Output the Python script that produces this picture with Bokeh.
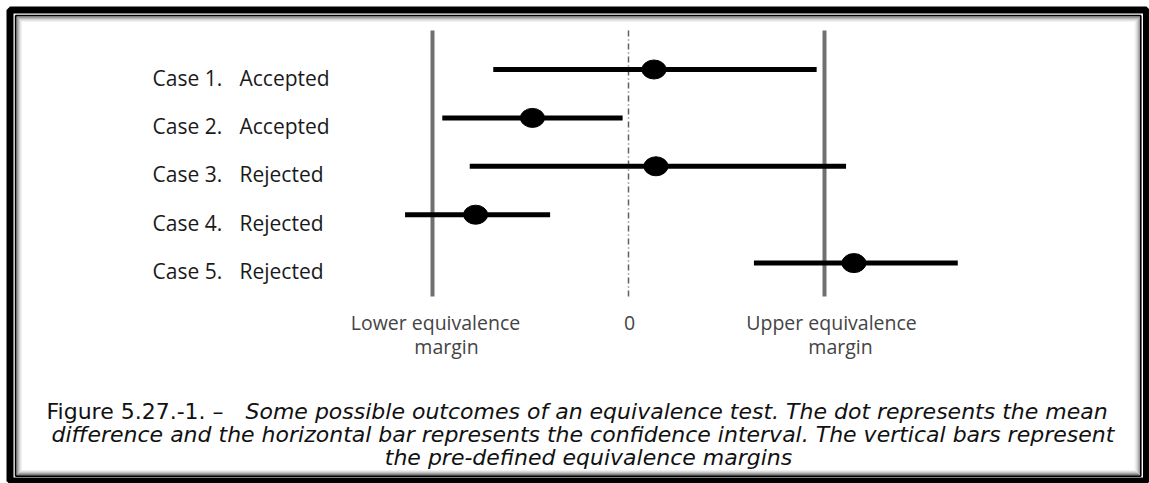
from bokeh.plotting import figure
from bokeh.models import Range1d, BoxAnnotation, ColumnDataSource
from bokeh.core.properties import value
from bokeh.embed import file_html
from bokeh.resources import INLINE

# ---------------- data ----------------
cases = ["Case 1.", "Case 2.", "Case 3.", "Case 4.", "Case 5."]
outcomes = ["Accepted", "Accepted", "Rejected", "Rejected", "Rejected"]
mean_diff = [0.13, -0.49, 0.14, -0.78, 1.15]
ci_low = [-0.69, -0.95, -0.81, -1.14, 0.64]
ci_high = [0.96, -0.03, 1.11, -0.40, 1.68]
margins = [-1.0, 1.0]
zero_line = [0.0]
tick_values = [-1.0, 0.0, 1.0]
tick_line1 = ["Lower equivalence", "0", "Upper equivalence"]
tick_line2 = ["margin", "", "margin"]
caption_lead = "Figure 5.27.-1. \u2013 "
caption_lines = [
    "Some possible outcomes of an equivalence test.  The dot represents the mean",
    "difference and the horizontal bar represents the confidence interval.  The vertical bars represent",
    "the pre-defined equivalence margins",
]

# ---------------- layout helpers (canvas pixels -> data units) ----------------
W, H = 1149, 483
ZERO_PX, UNIT_PX = 628.0, 196.0
ROW1_PY, ROW_STEP = 69.0, 48.4


def xd(px):
    return (px - ZERO_PX) / UNIT_PX


def yd(py):
    return 1 + (py - ROW1_PY) / ROW_STEP


rows = list(range(1, len(cases) + 1))

p = figure(width=W, height=H, output_backend="svg", toolbar_location=None,
           x_range=Range1d(xd(0), xd(W)),
           y_range=Range1d(yd(H), yd(0)),
           min_border=0, x_axis_location=None, y_axis_location=None)
p.grid.visible = False
p.outline_line_color = None
p.background_fill_color = "white"
p.border_fill_color = "white"


# frame decoration: thick outer border, thin inner border and inset shadow
def frame_box(l, t, r, b, color, width):
    p.add_layout(BoxAnnotation(left=xd(l), right=xd(r), top=yd(t), bottom=yd(b),
                               fill_alpha=0, line_color=color, line_width=width,
                               line_alpha=1))


frame_box(9.5, 9.5, 1146, 480.5, "black", 7)
frame_box(15.2, 15.2, 1140.2, 475.6, "black", 1.8)
for i, c in enumerate(["#808080", "#a4a4a4", "#c4c4c4", "#dcdcdc", "#eeeeee"]):
    frame_box(16.8 + i, 16.8 + i, 1138.6 - i, 474.0 - i, c, 1)

# vertical reference lines
v_top, v_bot = yd(30), yd(296)
p.segment(x0=margins, y0=[v_top] * len(margins), x1=margins, y1=[v_bot] * len(margins),
          line_color="#707070", line_width=4)
p.segment(x0=zero_line, y0=[v_top], x1=zero_line, y1=[v_bot],
          line_color="#606060", line_width=1.5, line_dash="6 3 1 3")

# confidence intervals and means
src = ColumnDataSource(dict(y=rows, lo=ci_low, hi=ci_high, m=mean_diff,
                            case=cases, outcome=outcomes))
p.segment(x0="lo", y0="y", x1="hi", y1="y", source=src, line_color="black", line_width=5)
p.ellipse(x="m", y="y", width=24, height=19, width_units="screen", height_units="screen",
          source=src, fill_color="black", line_color="black")

# case labels
lab_font = value("Open Sans")
p.text(x=xd(152), y="y", text="case", source=src, y_offset=8,
       text_align="left", text_baseline="alphabetic", text_font=lab_font,
       text_font_size="21px", text_color="#1a1a1a")
p.text(x=xd(239), y="y", text="outcome", source=src, y_offset=8,
       text_align="left", text_baseline="alphabetic", text_font=lab_font,
       text_font_size="21px", text_color="#1a1a1a")

# bottom margin labels
tsrc = ColumnDataSource(dict(x=tick_values, t1=tick_line1, t2=tick_line2,
                             dx1=[3, 1, 7], dx2=[14, 0, 16]))
p.text(x="x", y=yd(322), text="t1", x_offset="dx1", source=tsrc,
       text_align="center", text_baseline="alphabetic", text_font=lab_font,
       text_font_size="19.5px", text_color="#444444")
p.text(x="x", y=yd(346), text="t2", x_offset="dx2", source=tsrc,
       text_align="center", text_baseline="alphabetic", text_font=lab_font,
       text_font_size="19.5px", text_color="#444444")

# caption
cap_font = value("DejaVu Sans")
cap_size = "22px"
p.text(x=[xd(46)], y=[yd(411)], text=[caption_lead], text_align="left",
       text_baseline="alphabetic", text_font=cap_font, text_font_size=cap_size,
       text_color="#111111")
p.text(x=[xd(245), xd(51)], y=[yd(411), yd(434)], text=caption_lines[:2],
       text_align="left", text_baseline="alphabetic", text_font=cap_font,
       text_font_size=cap_size, text_font_style="italic", text_color="#111111")
p.text(x=[xd(588)], y=[yd(457)], text=caption_lines[2:],
       text_align="center", text_baseline="alphabetic", text_font=cap_font,
       text_font_size=cap_size, text_font_style="italic", text_color="#111111")

open("out.html", "w").write(file_html(p, INLINE))
